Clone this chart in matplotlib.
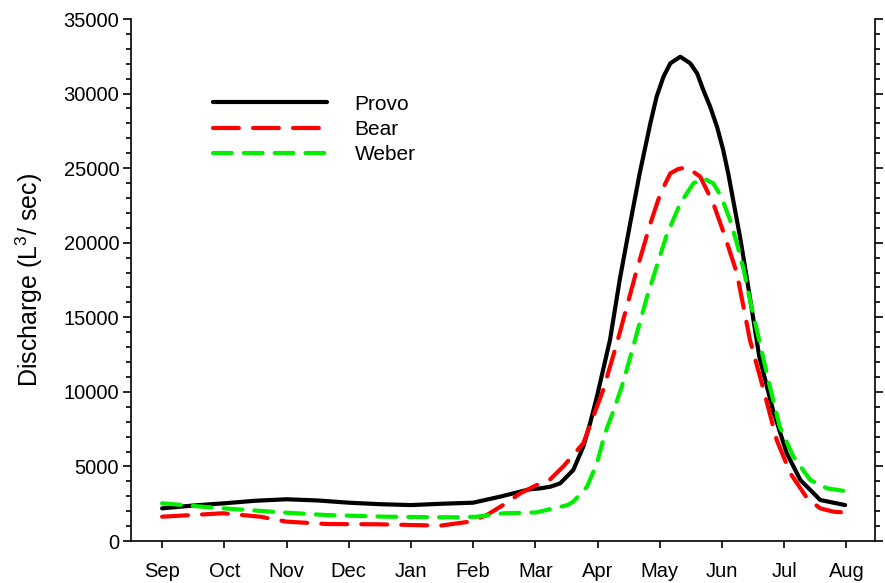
import numpy as np
import matplotlib
matplotlib.use("Agg")
from matplotlib import pyplot as plt
from matplotlib.ticker import MultipleLocator

plt.rcParams['font.family'] = ['Liberation Sans', 'DejaVu Sans']
plt.rcParams['mathtext.default'] = 'regular'

months = ['Sep', 'Oct', 'Nov', 'Dec', 'Jan', 'Feb', 'Mar', 'Apr', 'May', 'Jun', 'Jul', 'Aug']

# positions in months since Sep (0 = Sep, 11 = Aug)
provo_x = [0, 0.5, 1, 1.5, 2, 2.5, 3, 3.5, 4, 4.5, 5, 5.43, 5.9, 6.08, 6.25, 6.4, 6.61,
           6.77, 6.88, 6.99, 7.2, 7.36, 7.52, 7.68, 7.85, 7.95, 8.06, 8.17, 8.33, 8.49,
           8.6, 8.7, 8.81, 8.92, 9.02, 9.1, 9.29, 9.4, 9.6, 9.82, 10.04, 10.26, 10.58,
           10.98]
provo_y = [2190, 2380, 2530, 2700, 2800, 2720, 2570, 2470, 2410, 2500, 2570, 2970, 3460,
           3530, 3650, 3870, 4760, 6320, 7890, 9680, 13480, 17600, 21200, 24700, 28030,
           29800, 31130, 32030, 32470, 32030, 31360, 30240, 29120, 27780, 26220, 24660,
           20400, 17630, 12360, 8780, 5900, 4090, 2750, 2410]

bear_x = [0, 0.98, 1.58, 2.0, 2.65, 3.5, 4.47, 4.95, 5.22, 5.48, 5.76, 6.02, 6.24, 6.45,
          6.77, 6.93, 7.09, 7.31, 7.47, 7.63, 7.85, 8.01, 8.17, 8.3, 8.44, 8.65, 8.86,
          9.05, 9.24, 9.45, 9.67, 9.88, 10.1, 10.37, 10.58, 10.79, 11]
bear_y = [1630, 1860, 1630, 1300, 1140, 1120, 1030, 1300, 1740, 2410, 3200, 3750, 4140,
          5000, 6550, 8330, 10120, 13250, 15700, 18170, 21300, 23300, 24650, 24950, 25050,
          24430, 22640, 20400, 17950, 13480, 10120, 6770, 4540, 2860, 2190, 1970, 1900]

weber_x = [0, 0.5, 0.99, 2.0, 2.65, 3.61, 4.68, 5.06, 5.49, 6.02, 6.29, 6.51, 6.61, 6.83,
           6.99, 7.12, 7.26, 7.39, 7.47, 7.63, 7.79, 7.95, 8.11, 8.33, 8.54, 8.7, 8.86,
           8.99, 9.13, 9.24, 9.35, 9.45, 9.61, 9.77, 9.93, 10.15, 10.42, 10.69, 10.98]
weber_y = [2530, 2350, 2190, 1900, 1740, 1630, 1590, 1630, 1860, 1920, 2190, 2400, 2640,
           3640, 5210, 7220, 8780, 10350, 11500, 13900, 16300, 18400, 20500, 22640, 23980,
           24320, 23980, 23080, 21520, 19960, 18170, 16160, 13250, 10350, 7660, 5650,
           4090, 3530, 3350]

fig = plt.figure(figsize=(8.85, 5.83), dpi=100)
ax = fig.add_axes([0.148, 0.072, 0.8407, 0.8954])

ax.plot(provo_x, provo_y, color='black', lw=3, solid_capstyle='round',
        solid_joinstyle='round', label='Provo')
ax.plot(bear_x, bear_y, color='#ff0000', lw=3, dashes=(6.2, 3.4),
        dash_capstyle='round', label='Bear')
ax.plot(weber_x, weber_y, color='#00ee00', lw=3, dashes=(4.5, 2.9),
        dash_capstyle='round', label='Weber')

ax.set_xlim(-0.5, 11.46)
ax.set_ylim(0, 35000)
ax.set_xticks(range(len(months)))
ax.set_xticklabels(months)
ax.yaxis.set_major_locator(MultipleLocator(5000))
ax.yaxis.set_minor_locator(MultipleLocator(1000))

ax.spines['top'].set_visible(False)
for s in ['left', 'right', 'bottom']:
    ax.spines[s].set_linewidth(1.2)
ax.tick_params(axis='y', which='both', direction='out', right=True, width=1.2)
ax.tick_params(axis='y', which='major', length=5.5, labelsize=14.5, pad=3)
ax.tick_params(axis='y', which='minor', length=3.6)
ax.tick_params(axis='x', direction='out', length=5, width=1.2, labelsize=14.5, pad=10)

ax.set_ylabel('Discharge (L$^3$/ sec)', fontsize=18, labelpad=13)

ax.legend(loc='upper left', bbox_to_anchor=(0.110, 0.855), frameon=False, fontsize=15,
          handlelength=5.5, handletextpad=1.3, labelspacing=0.3, borderpad=0,
          borderaxespad=0)

fig.savefig('out.png', dpi=100)
